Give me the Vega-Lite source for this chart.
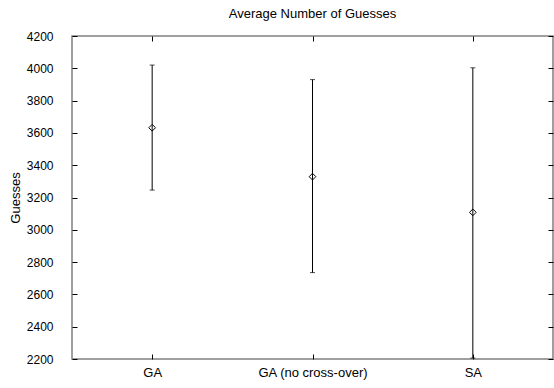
{
  "$schema": "https://vega.github.io/schema/vega-lite/v6.json",
  "width": 481,
  "height": 323,
  "autosize": {"type": "none"},
  "padding": {"left": 72, "top": 36, "right": 1, "bottom": 29},
  "background": "white",
  "title": {"text": "Average Number of Guesses", "font": "Liberation Sans", "fontSize": 13, "fontWeight": "normal", "color": "black", "offset": 9},
  "config": {
    "view": {"stroke": "#808080", "strokeWidth": 1.5},
    "axis": {"labelFont": "Liberation Sans", "labelFontSize": 13, "labelColor": "black", "titleFont": "Liberation Sans", "titleFontSize": 13, "titleFontWeight": "normal", "titleColor": "black", "domain": false, "grid": false, "tickColor": "black", "tickSize": -5}
  },
  "data": {"values": [
    {"method": "GA", "mean": 3632, "lo": 3246, "hi": 4020},
    {"method": "GA (no cross-over)", "mean": 3329, "lo": 2735, "hi": 3930},
    {"method": "SA", "mean": 3108, "lo": 2206, "hi": 4003}
  ]},
  "layer": [
    {"mark": {"type": "rule", "color": "black", "strokeWidth": 1},
     "encoding": {
       "x": {"field": "method", "type": "nominal", "sort": null, "scale": {"type": "point", "padding": 0.5}, "axis": {"title": null, "labelAngle": 0, "labelPadding": 12, "orient": "bottom"}},
       "y": {"field": "lo", "type": "quantitative", "scale": {"domain": [2200, 4200], "nice": false, "zero": false}, "axis": {"title": "Guesses", "orient": "left", "values": [2200,2400,2600,2800,3000,3200,3400,3600,3800,4000,4200], "labelPadding": 24, "labelFontSize": 12, "titlePadding": 4, "format": "d"}},
       "y2": {"field": "hi"}
     }},
    {"mark": {"type": "tick", "color": "black", "size": 5, "thickness": 1},
     "encoding": {
       "x": {"field": "method", "type": "nominal", "sort": null, "axis": null},
       "y": {"field": "lo", "type": "quantitative", "axis": null}}},
    {"mark": {"type": "tick", "color": "black", "size": 5, "thickness": 1},
     "encoding": {
       "x": {"field": "method", "type": "nominal", "sort": null, "axis": null},
       "y": {"field": "hi", "type": "quantitative", "axis": null}}},
    {"mark": {"type": "point", "shape": "diamond", "filled": false, "color": "black", "size": 45, "strokeWidth": 1, "opacity": 1},
     "encoding": {
       "x": {"field": "method", "type": "nominal", "sort": null, "axis": {"orient": "top", "labels": false, "title": null}},
       "y": {"field": "mean", "type": "quantitative", "axis": {"orient": "right", "labels": false, "title": null, "values": [2200,2400,2600,2800,3000,3200,3400,3600,3800,4000,4200]}}}}
  ],
  "resolve": {"axis": {"y": "independent", "x": "independent"}}
}
